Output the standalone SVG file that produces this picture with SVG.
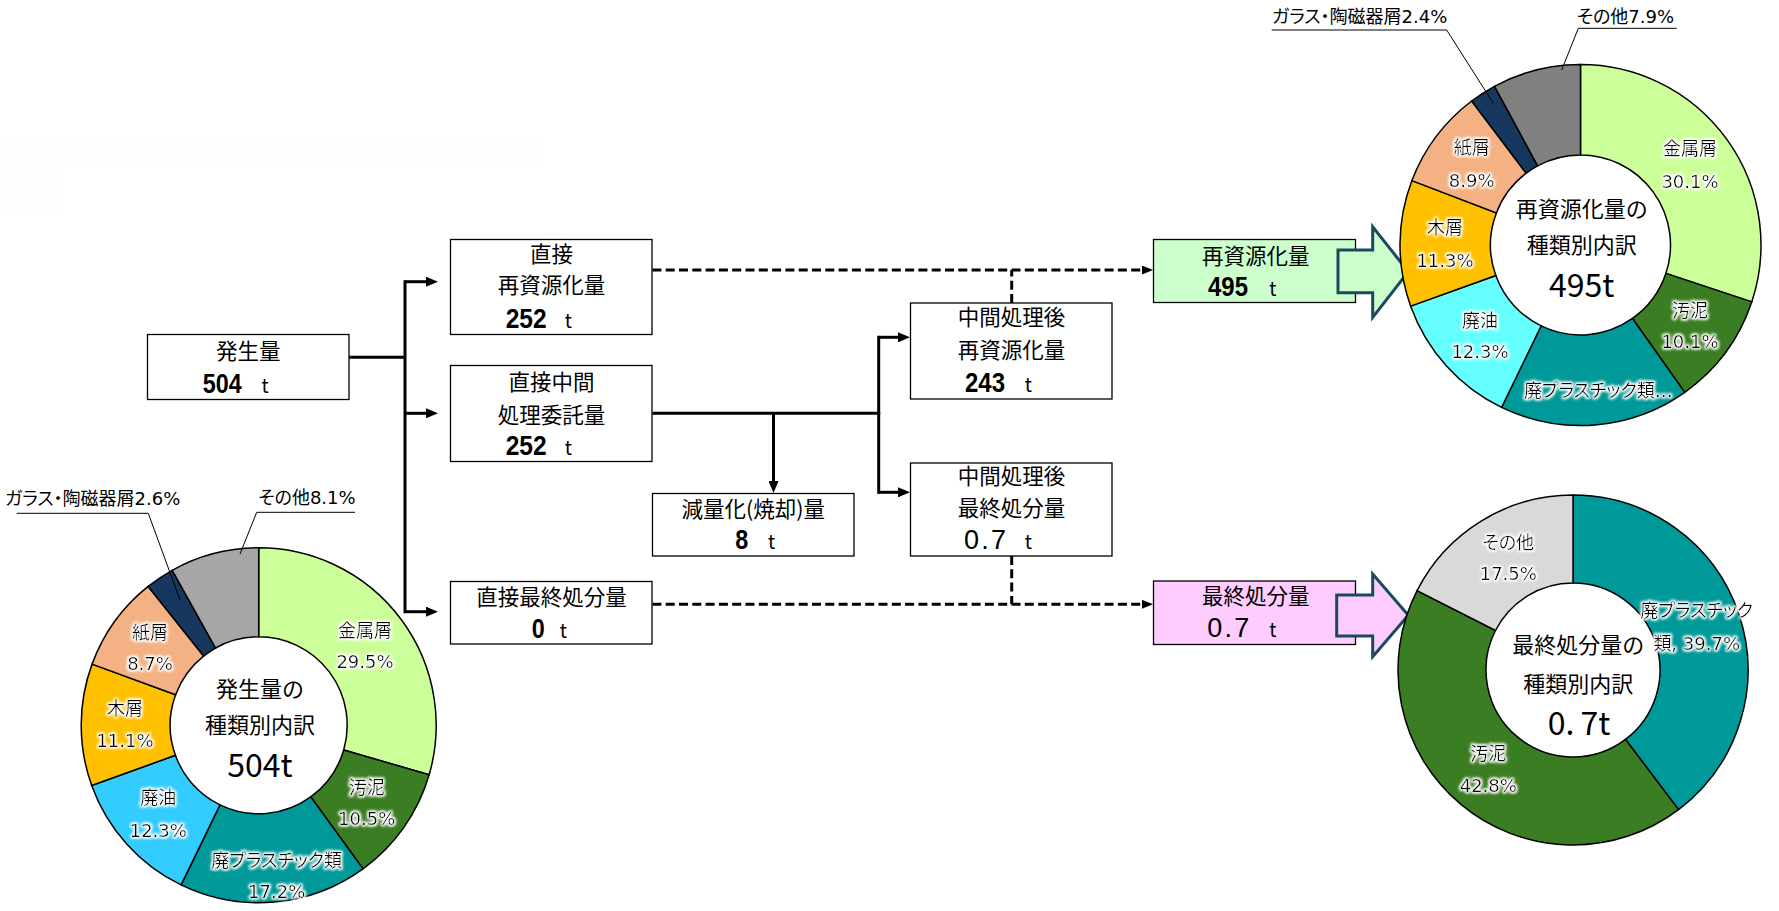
<svg xmlns="http://www.w3.org/2000/svg" width="1779" height="911" viewBox="0 0 1779 911">
<defs>
<marker id="ah" viewBox="0 0 12 10" markerUnits="userSpaceOnUse" markerWidth="12" markerHeight="10" refX="0" refY="5" orient="auto"><path d="M0,0 L12,5 L0,10 z" fill="#000"/></marker>
<marker id="ahs" viewBox="0 0 11 9" markerUnits="userSpaceOnUse" markerWidth="11" markerHeight="9" refX="0" refY="4.5" orient="auto"><path d="M0,0 L11,4.5 L0,9 z" fill="#000"/></marker>
<filter id="glow" x="-20%" y="-40%" width="140%" height="180%">
<feMorphology in="SourceAlpha" operator="dilate" radius="1.2" result="d"/>
<feGaussianBlur in="d" stdDeviation="1.6" result="b"/>
<feFlood flood-color="#ffffff"/>
<feComposite in2="b" operator="in" result="g"/>
<feMerge><feMergeNode in="g"/><feMergeNode in="g"/><feMergeNode in="SourceGraphic"/></feMerge>
</filter>
</defs>
<style>
.box{fill:#fff;stroke:#000;stroke-width:1.3}
.jt{font-family:"Noto Sans CJK JP",sans-serif;font-size:21.5px;fill:#000;text-anchor:middle}
.num{font-family:"Liberation Sans",Arial,sans-serif;font-size:27px;font-weight:bold;fill:#000}
.reg{font-weight:normal}
.tu{font-family:"Noto Sans CJK JP",sans-serif;font-size:19px;fill:#000;text-anchor:middle}
.ln{fill:none;stroke:#000;stroke-width:3}
.dash{fill:none;stroke:#000;stroke-width:3;stroke-dasharray:9 4.3}
.seg{stroke:#000;stroke-width:1.5}
.lbl{font-family:"DejaVu Sans","Noto Sans CJK JP",sans-serif;font-size:18px;fill:#000;text-anchor:middle;font-feature-settings:"palt";filter:url(#glow)}
.ctr{font-family:"Noto Sans CJK JP",sans-serif;font-size:22px;fill:#000;text-anchor:middle}
.big{font-family:"Noto Sans CJK JP",sans-serif;font-size:32px;fill:#000;text-anchor:middle}
.lead{fill:none;stroke:#000;stroke-width:1}
.out{font-family:"DejaVu Sans","Noto Sans CJK JP",sans-serif;font-size:18px;fill:#000;font-feature-settings:"palt"}
.blk{fill:#fff;stroke:#1B4A5E;stroke-width:3;stroke-linejoin:miter}
</style>
<rect width="1779" height="911" fill="#fff"/>
<rect x="0" y="142" width="543" height="26" fill="#FDFDFD"/>
<rect x="0" y="168" width="63" height="42" fill="#FDFDFD"/>

<g id="connectors">
<path class="ln" d="M349,357.3 H405"/>
<path class="ln" d="M405,280.2 V613.2"/>
<path class="ln" d="M405,281.7 H426" marker-end="url(#ah)"/>
<path class="ln" d="M405,413.3 H426" marker-end="url(#ah)"/>
<path class="ln" d="M405,611.7 H426" marker-end="url(#ah)"/>
<path class="ln" d="M652.4,413.3 H880.2"/>
<path class="ln" d="M773.5,413.3 V481" marker-end="url(#ah)"/>
<path class="ln" d="M878.7,335.8 V493.8"/>
<path class="ln" d="M878.7,337.3 H898" marker-end="url(#ah)"/>
<path class="ln" d="M878.7,492.3 H898" marker-end="url(#ah)"/>
<path class="dash" d="M652.4,270 H1142" marker-end="url(#ahs)"/>
<path class="dash" d="M1011.7,303 V270"/>
<path class="dash" d="M652.4,604.3 H1142" marker-end="url(#ahs)"/>
<path class="dash" d="M1011.7,556 V604.3"/>
</g>

<g id="n-hassei">
<rect class="box" x="147.5" y="334.5" width="201.5" height="65"/>
<text class="jt" x="248.3" y="358.5">発生量</text>
<text class="num" x="202.7" y="392.7" textLength="39" lengthAdjust="spacingAndGlyphs">504</text><text class="tu" x="265" y="392.7">t</text>
</g>
<g id="n-chokusetsu-saishigen">
<rect class="box" x="450.5" y="239.5" width="201.5" height="95"/>
<text class="jt" x="551.5" y="262">直接</text>
<text class="jt" x="551.5" y="293">再資源化量</text>
<text class="num" x="505.7" y="328.3" textLength="41" lengthAdjust="spacingAndGlyphs">252</text><text class="tu" x="568.3" y="328.3">t</text>
</g>
<g id="n-chokusetsu-chukan">
<rect class="box" x="450.5" y="365.5" width="201.5" height="96"/>
<text class="jt" x="551.5" y="390">直接中間</text>
<text class="jt" x="551.5" y="422.5">処理委託量</text>
<text class="num" x="505.7" y="455" textLength="41" lengthAdjust="spacingAndGlyphs">252</text><text class="tu" x="568.3" y="455">t</text>
</g>
<g id="n-chokusetsu-saishu">
<rect class="box" x="450.5" y="581.5" width="201.5" height="62.5"/>
<text class="jt" x="551.5" y="605">直接最終処分量</text>
<text class="num" x="531.8" y="638.3" textLength="13" lengthAdjust="spacingAndGlyphs">0</text><text class="tu" x="563.3" y="638.3">t</text>
</g>
<g id="n-genryo">
<rect class="box" x="652.5" y="493.5" width="201.5" height="62.5"/>
<text class="jt" x="753.3" y="517">減量化(焼却)量</text>
<text class="num" x="735.2" y="549.3" textLength="13" lengthAdjust="spacingAndGlyphs">8</text><text class="tu" x="771.5" y="549.3">t</text>
</g>
<g id="n-chukan-saishigen">
<rect class="box" x="910.5" y="303" width="201.5" height="96"/>
<text class="jt" x="1011.5" y="325">中間処理後</text>
<text class="jt" x="1011.5" y="357.5">再資源化量</text>
<text class="num" x="965" y="391.7" textLength="40" lengthAdjust="spacingAndGlyphs">243</text><text class="tu" x="1028.3" y="391.7">t</text>
</g>
<g id="n-chukan-saishu">
<rect class="box" x="910.5" y="463" width="201.5" height="93"/>
<text class="jt" x="1011.5" y="484">中間処理後</text>
<text class="jt" x="1011.5" y="516">最終処分量</text>
<text class="num reg" x="964" y="549.3" textLength="42" lengthAdjust="spacing">0.7</text><text class="tu" x="1028.3" y="549.3">t</text>
</g>

<g id="n-saishigen-total">
<rect class="box" x="1153.5" y="239.5" width="202" height="63" style="fill:#CCFFCC"/>
<polygon class="blk" style="fill:#CCFFCC" points="1338,250 1372.7,250 1372.7,226.7 1408.3,271.7 1372.7,317.3 1372.7,292.7 1338,292.7"/>
<text class="jt" x="1255.7" y="263.5">再資源化量</text>
<text class="num" x="1208" y="296" textLength="40" lengthAdjust="spacingAndGlyphs">495</text><text class="tu" x="1272.8" y="296">t</text>
</g>
<g id="n-saishu-total">
<rect class="box" x="1153.5" y="581" width="202" height="63.5" style="fill:#FFCCFF"/>
<polygon class="blk" style="fill:#FFCCFF" points="1336.7,595 1372.7,595 1372.7,574 1408.3,615.3 1372.7,656.7 1372.7,636 1336.7,636"/>
<text class="jt" x="1255.7" y="604">最終処分量</text>
<text class="num reg" x="1207.3" y="637.3" textLength="42" lengthAdjust="spacing">0.7</text><text class="tu" x="1272.8" y="637.3">t</text>
</g>

<g id="donut-hassei">
<path class="seg" fill="#CCFF99" d="M258.7,547.8 A177.5,177.5 0 0 1 429.15,774.82 L343.69,749.99 A88.5,88.5 0 0 0 258.7,636.8 Z"/>
<path class="seg" fill="#3B7D23" d="M429.15,774.82 A177.5,177.5 0 0 1 363.03,868.9 L310.72,796.9 A88.5,88.5 0 0 0 343.69,749.99 Z"/>
<path class="seg" fill="#009999" d="M363.03,868.9 A177.5,177.5 0 0 1 181.11,884.94 L220.01,804.9 A88.5,88.5 0 0 0 310.72,796.9 Z"/>
<path class="seg" fill="#33CCFF" d="M181.11,884.94 A177.5,177.5 0 0 1 91.69,785.43 L175.43,755.28 A88.5,88.5 0 0 0 220.01,804.9 Z"/>
<path class="seg" fill="#FFC000" d="M91.69,785.43 A177.5,177.5 0 0 1 92.07,664.13 L175.62,694.8 A88.5,88.5 0 0 0 175.43,755.28 Z"/>
<path class="seg" fill="#F4B183" d="M92.07,664.13 A177.5,177.5 0 0 1 148.16,586.42 L203.59,656.06 A88.5,88.5 0 0 0 175.62,694.8 Z"/>
<path class="seg" fill="#17375E" d="M148.16,586.42 A177.5,177.5 0 0 1 172.22,570.29 L215.58,648.02 A88.5,88.5 0 0 0 203.59,656.06 Z"/>
<path class="seg" fill="#A6A6A6" d="M172.22,570.29 A177.5,177.5 0 0 1 258.7,547.8 L258.7,636.8 A88.5,88.5 0 0 0 215.58,648.02 Z"/>
<text class="lbl" x="365" y="636.8">金属屑</text><text class="lbl" x="365" y="668.3">29.5%</text>
<text class="lbl" x="366.7" y="793.5">汚泥</text><text class="lbl" x="366.7" y="825">10.5%</text>
<text class="lbl" x="276.7" y="866.8">廃プラスチック類</text><text class="lbl" x="276.7" y="898.3">17.2%</text>
<text class="lbl" x="158.3" y="803.5">廃油</text><text class="lbl" x="158.3" y="836.7">12.3%</text>
<text class="lbl" x="125" y="715.2">木屑</text><text class="lbl" x="125" y="746.7">11.1%</text>
<text class="lbl" x="150" y="638.5">紙屑</text><text class="lbl" x="150" y="670">8.7%</text>
<path class="lead" d="M16.7,513.3 H148.3 L180,600"/>
<path class="lead" d="M355,512.3 H256.7 L240,554"/>
<text class="out" x="5" y="505">ガラス・陶磁器屑2.6%</text>
<text class="out" x="258.3" y="503.5">その他8.1%</text>
<text class="ctr" x="260" y="696.5">発生量の</text>
<text class="ctr" x="260" y="733">種類別内訳</text>
<text class="big" x="260" y="776.7">504t</text>
</g>

<g id="donut-saishigen">
<path class="seg" fill="#CCFF99" d="M1580.5,64.5 A180.5,180.5 0 0 1 1751.81,301.86 L1665.92,273.35 A90,90 0 0 0 1580.5,155 Z"/>
<path class="seg" fill="#3B7D23" d="M1751.81,301.86 A180.5,180.5 0 0 1 1684.75,392.34 L1632.48,318.47 A90,90 0 0 0 1665.92,273.35 Z"/>
<path class="seg" fill="#009999" d="M1684.75,392.34 A180.5,180.5 0 0 1 1501.6,407.34 L1541.16,325.95 A90,90 0 0 0 1632.48,318.47 Z"/>
<path class="seg" fill="#66FFFF" d="M1501.6,407.34 A180.5,180.5 0 0 1 1410.67,306.14 L1495.82,275.49 A90,90 0 0 0 1541.16,325.95 Z"/>
<path class="seg" fill="#FFC000" d="M1410.67,306.14 A180.5,180.5 0 0 1 1411.85,180.67 L1496.41,212.92 A90,90 0 0 0 1495.82,275.49 Z"/>
<path class="seg" fill="#F4B183" d="M1411.85,180.67 A180.5,180.5 0 0 1 1471.66,101 L1526.23,173.2 A90,90 0 0 0 1496.41,212.92 Z"/>
<path class="seg" fill="#17375E" d="M1471.66,101 A180.5,180.5 0 0 1 1494.53,86.29 L1537.63,165.86 A90,90 0 0 0 1526.23,173.2 Z"/>
<path class="seg" fill="#808080" d="M1494.53,86.29 A180.5,180.5 0 0 1 1580.5,64.5 L1580.5,155 A90,90 0 0 0 1537.63,165.86 Z"/>
<text class="lbl" x="1690" y="155.2">金属屑</text><text class="lbl" x="1690" y="188.3">30.1%</text>
<text class="lbl" x="1690" y="316.8">汚泥</text><text class="lbl" x="1690" y="348.3">10.1%</text>
<text class="lbl" x="1598.3" y="396.8">廃プラスチック類…</text>
<text class="lbl" x="1480" y="326.8">廃油</text><text class="lbl" x="1480" y="358.3">12.3%</text>
<text class="lbl" x="1445" y="233.5">木屑</text><text class="lbl" x="1445" y="266.7">11.3%</text>
<text class="lbl" x="1471.7" y="153.5">紙屑</text><text class="lbl" x="1471.7" y="186.7">8.9%</text>
<path class="lead" d="M1271.7,30 H1446.7 L1493.3,103.3"/>
<path class="lead" d="M1676.7,28.3 H1578.3 L1561.7,70"/>
<text class="out" x="1272" y="22.5">ガラス・陶磁器屑2.4%</text>
<text class="out" x="1576.7" y="22.5">その他7.9%</text>
<text class="ctr" x="1581.7" y="216.5">再資源化量の</text>
<text class="ctr" x="1581.7" y="253">種類別内訳</text>
<text class="big" x="1581.7" y="296.7">495t</text>
</g>

<g id="donut-saishu">
<path class="seg" fill="#009999" d="M1573,495 A175,175 0 0 1 1678.52,809.61 L1625.46,739.41 A87,87 0 0 0 1573,583 Z"/>
<path class="seg" fill="#3B7D23" d="M1678.52,809.61 A175,175 0 0 1 1417.07,590.55 L1495.48,630.5 A87,87 0 0 0 1625.46,739.41 Z"/>
<path class="seg" fill="#D9D9D9" d="M1417.07,590.55 A175,175 0 0 1 1573,495 L1573,583 A87,87 0 0 0 1495.48,630.5 Z"/>
<text class="lbl" x="1508.3" y="548.5">その他</text><text class="lbl" x="1508.3" y="580">17.5%</text>
<text class="lbl" x="1696.7" y="616.8">廃プラスチック</text><text class="lbl" x="1696.7" y="650">類, 39.7%</text>
<text class="lbl" x="1488.3" y="760.2">汚泥</text><text class="lbl" x="1488.3" y="791.7">42.8%</text>
<text class="ctr" x="1578.3" y="653">最終処分量の</text>
<text class="ctr" x="1578.3" y="691.5">種類別内訳</text>
<text class="big" x="1579" y="735">0.<tspan dx="6">7t</tspan></text>
</g>
</svg>
